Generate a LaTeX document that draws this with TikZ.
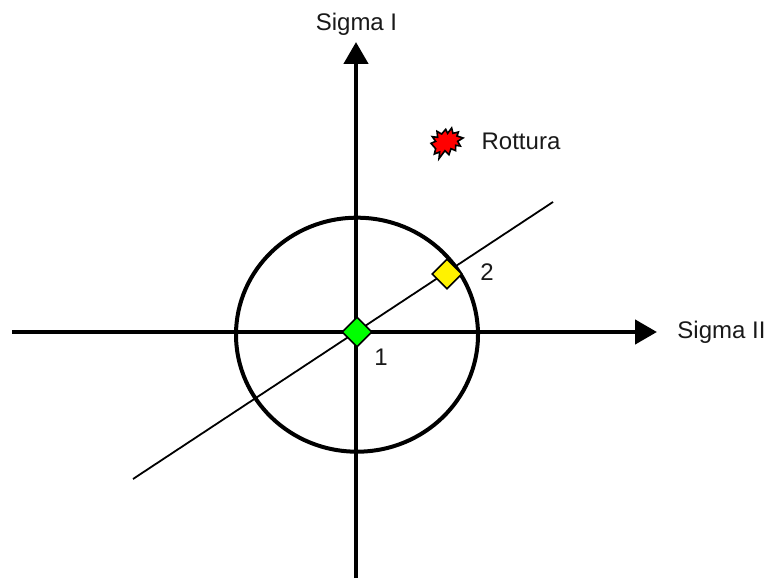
\documentclass[tikz,border=0pt]{standalone}
\usepackage{fontspec}
\setmainfont{Liberation Sans}
\usetikzlibrary{shapes.geometric, arrows.meta, positioning}

\begin{document}
\begin{tikzpicture}[
    x=1pt, y=-1pt,
    axis/.style={
        line width=4.5pt,
        -{Triangle[length=22pt,width=24pt]}
    },
    label/.style={
        font=\fontsize{24}{28}\selectfont,
        text=black!90,
        anchor=base,
        inner sep=0pt
    },
    marker/.style={
        draw,
        diamond,
        aspect=1,
        line width=1.6pt,
        inner sep=0pt,
        minimum size=30pt
    }
]

\useasboundingbox (0,0) rectangle (769,580);

\coordinate (west) at (12,332);
\coordinate (east) at (657,332);
\coordinate (south) at (356,578);
\coordinate (north) at (356,42);
\coordinate (lineS) at (133,479);
\coordinate (lineN) at (553,202);

\draw[axis] (west) -- (east);
\draw[axis] (south) -- (north);

\draw[line width=4pt] (357,334.7) ellipse (121 and 117);

\draw[line width=1.8pt] (lineS) -- (lineN);

\node[marker, fill=green] (p1) at (357,332) {};
\node[marker, fill=yellow] (p2) at (447,274) {};

% burst
\begin{scope}[shift={(425,122)}, x=0.3333pt, y=-0.3333pt]
\draw[fill=red, line width=1.6pt] (36,28) -- (50,36) -- (62,22) -- (68,34) -- (80,18) -- (84,34)
    -- (100,30) -- (96,42) -- (114,48) -- (98,58) -- (106,72) -- (92,70) -- (92,86) -- (78,80)
    -- (72,98) -- (60,86) -- (42,110) -- (44,90) -- (28,96) -- (32,80) -- (18,64) -- (32,58)
    -- (22,44) -- (38,46) -- cycle;
\end{scope}

\node[label] (sigmaI) at (356.5,30.5) {Sigma I};
\node[label] (sigmaII) at (721.5,338) {Sigma II};
\node[label] (rottura) at (521,150) {Rottura};
\node[label] (num1) at (381,365.5) {1};
\node[label] (num2) at (487,281) {2};

\end{tikzpicture}
\end{document}
